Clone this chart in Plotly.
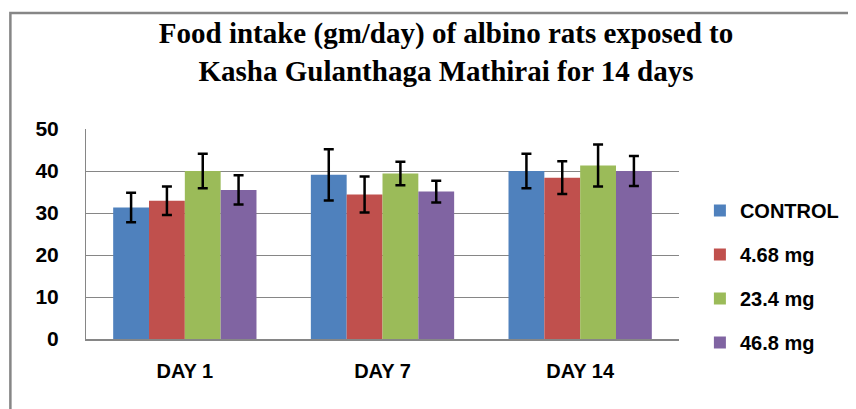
import plotly.graph_objects as go

categories = ["DAY 1", "DAY 7", "DAY 14"]
series_names = ["CONTROL", "4.68 mg", "23.4 mg", "46.8 mg"]
control = [31.3, 39.1, 40.0]
control_sd = [3.5, 6.1, 4.1]
dose_468 = [32.9, 34.4, 38.4]
dose_468_sd = [3.4, 4.3, 3.9]
dose_234 = [40.0, 39.4, 41.3]
dose_234_sd = [4.1, 2.8, 5.0]
dose_468b = [35.5, 35.1, 40.0]
dose_468b_sd = [3.5, 2.6, 3.6]
y_ticks = [0, 10, 20, 30, 40, 50]

values = [control, dose_468, dose_234, dose_468b]
errors = [control_sd, dose_468_sd, dose_234_sd, dose_468b_sd]
colors = ["#4F81BD", "#C0504D", "#9BBB59", "#8064A2"]

# page body has an 8px margin, so the figure is sized to fit the window
W, H = 848, 401
ml, mr, mt, mb = 78, 174, 121, 70
pw, ph = W - ml - mr, H - mt - mb

fig = go.Figure()
for name, v, e, c in zip(series_names, values, errors, colors):
    fig.add_trace(go.Bar(
        x=categories, y=v, name=name, marker_color=c, marker_line_width=0,
        legendgroup=name,
        error_y=dict(type="data", array=e, visible=True, color="black",
                     thickness=2.5, width=5),
    ))

def px_x(p):
    return (p - ml) / pw

def px_y(p):
    return (H - mb - p) / ph

fig.update_layout(
    width=W, height=H,
    margin=dict(l=ml, r=mr, t=mt, b=mb),
    paper_bgcolor="white", plot_bgcolor="white",
    barmode="group", bargap=0.275, bargroupgap=0,
    title=dict(
        text="Food intake (gm/day) of albino rats exposed to<br>Kasha Gulanthaga Mathirai for 14 days",
        font=dict(family="Liberation Serif", size=29, color="black", weight="bold"),
        x=438 / W, xanchor="center", xref="container",
        y=1 - 35 / H, yanchor="top", yref="container",
    ),
    font=dict(family="Liberation Sans", color="black"),
    legend=dict(
        x=px_x(695), xanchor="left", y=px_y(183), yanchor="top",
        font=dict(family="Liberation Sans", size=20, color="black", weight="bold"),
        traceorder="grouped", tracegroupgap=15, bgcolor="rgba(0,0,0,0)",
    ),
    xaxis=dict(
        showline=True, linecolor="#868686", linewidth=1.5,
        tickfont=dict(family="Liberation Sans", size=20, color="black", weight="bold"),
        ticks="", ticklabelstandoff=13, showgrid=False,
    ),
    yaxis=dict(
        range=[0, 50], tickvals=y_ticks, showgrid=True, gridcolor="#868686",
        gridwidth=1, showline=True, linecolor="#868686", linewidth=1,
        zeroline=False,
        tickfont=dict(family="Liberation Sans", size=21, color="black", weight="bold"),
        ticks="", ticklabelstandoff=22,
    ),
    shapes=[dict(
        type="rect", xref="paper", yref="paper",
        x0=px_x(2), x1=px_x(870), y0=px_y(420), y1=px_y(5),
        line=dict(color="#868686", width=2.5), fillcolor="rgba(0,0,0,0)", layer="below",
    )],
)

fig.write_html("out.html")
